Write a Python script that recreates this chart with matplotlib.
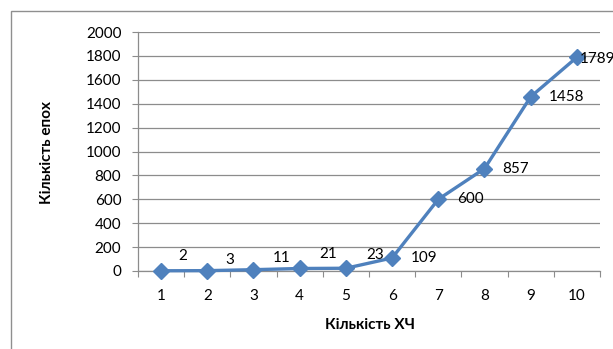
import matplotlib
matplotlib.use("Agg")
import matplotlib.pyplot as plt
from matplotlib.patches import Rectangle
import matplotlib.ticker as ticker

plt.rcParams['font.family'] = ['Lato', 'Open Sans', 'DejaVu Sans']

# number of chromosomes vs number of epochs
n_chrom = [1, 2, 3, 4, 5, 6, 7, 8, 9, 10]
epochs = [2, 3, 11, 21, 23, 109, 600, 857, 1458, 1789]

# label offsets (pixels, relative to marker): dx to left edge, dy up
label_dx = [17, 18, 19, 20, 20, 19, 19, 18, 18, 3]
label_dy = [15, 11, 12, 14, 13, 0, 0, 0, 0, -2]

BLUE = "#4F81BD"
GRID = "#8C8C8C"
W, H = 613, 349

fig = plt.figure(figsize=(W / 100, H / 100), dpi=100)
fig.patches.append(Rectangle((11 / W, -0.1), 1.2, (H - 11) / H + 0.1,
                             transform=fig.transFigure, fill=False,
                             ec="#8F8F8F", lw=1.0))

ax = fig.add_axes([138 / W, (H - 271) / H, (600 - 138) / W, (271 - 32) / H])
ax.plot(n_chrom, epochs, color=BLUE, lw=2.4, marker="D", ms=8,
        mfc=BLUE, mec=BLUE, zorder=4, clip_on=False)

for x, y, dx, dy in zip(n_chrom, epochs, label_dx, label_dy):
    ax.annotate(str(y), xy=(x, y), xytext=(dx * 0.72, dy * 0.72),
                textcoords="offset points", ha="left", va="center",
                fontsize=11, color="black", zorder=5, annotation_clip=False)

ax.set_xlim(0.5, 10.5)
ax.set_ylim(0, 2000)
ax.set_yticks(range(0, 2001, 200))
ax.yaxis.grid(True, color=GRID, lw=0.9)
ax.set_axisbelow(True)

# category ticks sit between labels, labels sit on the categories
ax.xaxis.set_major_locator(ticker.FixedLocator([i + 0.5 for i in range(0, 11)]))
ax.xaxis.set_major_formatter(ticker.NullFormatter())
ax.xaxis.set_minor_locator(ticker.FixedLocator(n_chrom))
ax.xaxis.set_minor_formatter(ticker.FixedFormatter([str(v) for v in n_chrom]))
ax.tick_params(axis="x", which="major", length=4, color=GRID, direction="out")
ax.tick_params(axis="x", which="minor", length=0, pad=13, labelsize=11)
ax.tick_params(axis="y", length=4, color=GRID, direction="out", pad=8,
               labelsize=11)

for side in ("top", "right"):
    ax.spines[side].set_visible(False)
for side in ("left", "bottom"):
    ax.spines[side].set_color(GRID)
    ax.spines[side].set_linewidth(0.9)

fig.text(47 / W, 1 - 152 / H, "Кількість епох", rotation=90, ha="center",
         va="center", fontsize=11, fontweight="bold")
fig.text(370 / W, 1 - 325 / H, "Кількість ХЧ", ha="center", va="center",
         fontsize=11, fontweight="bold")

fig.savefig("out.png", dpi=100)
